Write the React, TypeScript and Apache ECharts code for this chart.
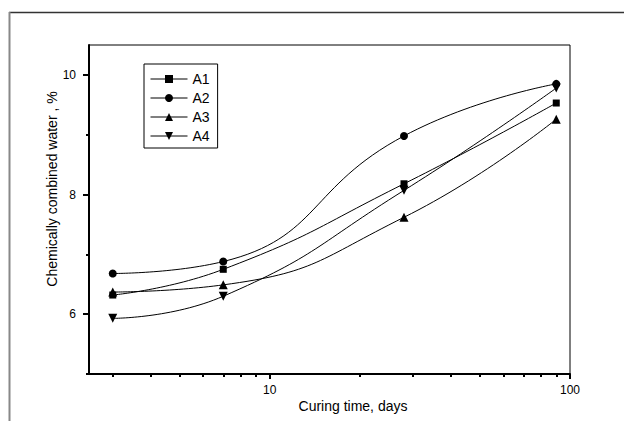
import React, { useEffect, useRef } from "react";
import * as echarts from "echarts";

// ---- data ----
const curingDays = [3, 7, 28, 90];
const seriesNames = ["A1", "A2", "A3", "A4"];
const a1Values = [6.32, 6.75, 8.18, 9.53];
const a2Values = [6.68, 6.88, 8.98, 9.85];
const a3Values = [6.37, 6.49, 7.62, 9.26];
const a4Values = [5.93, 6.3, 8.07, 9.78];
const xMajorTicks = [10, 100];
const xMinorTicks = [3, 4, 5, 6, 7, 8, 9, 20, 30, 40, 50, 60, 70, 80, 90];
const yMajorTicks = [6, 8, 10];
const yMinorTicks = [5, 7, 9];
const xTitle = "Curing time, days";
const yTitle = "Chemically combined water , %";

const FONT = "'Liberation Sans', Arial, sans-serif";

export default function App() {
  const ref = useRef<HTMLDivElement>(null);

  useEffect(() => {
    if (!ref.current) return;
    const chart = echarts.init(ref.current, null, { renderer: "svg" });
    const allValues = [a1Values, a2Values, a3Values, a4Values];
    const symbols = ["rect", "circle", "triangle", "triangle"];
    const rotates = [0, 0, 0, 180];
    const sizes = [7, 8, 9, 9];

    const series = seriesNames.map((name, i) => ({
      name,
      type: "line",
      xAxisIndex: 0,
      yAxisIndex: 0,
      smooth: 0.5,
      data: curingDays.map((d, j) => [d, allValues[i][j]]),
      symbol: symbols[i],
      symbolRotate: rotates[i],
      symbolSize: sizes[i],
      showAllSymbol: true,
      lineStyle: { color: "#000", width: 1 },
      itemStyle: { color: "#000", borderWidth: 0 },
      z: 3,
    }));

    const axisCommonY = {
      type: "value",
      min: 5,
      max: 10.5,
      interval: 1,
      gridIndex: 0,
      splitLine: { show: false },
    };
    const axisCommonX = {
      type: "log",
      logBase: 10,
      min: 2.5,
      max: 100,
      gridIndex: 0,
      splitLine: { show: false },
      minorTick: { show: false },
    };

    chart.setOption({
      animation: false,
      backgroundColor: "#fff",
      textStyle: { fontFamily: FONT },
      grid: {
        left: 89,
        top: 45,
        right: 54,
        bottom: 47,
        show: true,
        borderColor: "#000",
        borderWidth: 1,
      },
      legend: {
        orient: "vertical",
        left: 144,
        top: 64,
        padding: [8, 8, 5, 6],
        itemWidth: 37,
        itemHeight: 10,
        itemGap: 5,
        borderColor: "#000",
        borderWidth: 1,
        backgroundColor: "#fff",
        itemStyle: { borderWidth: 0, color: "#000" },
        lineStyle: { color: "#000", width: 1 },
        textStyle: {
          fontFamily: FONT,
          fontSize: 14,
          lineHeight: 14,
          color: "#000",
        },
        data: seriesNames,
      },
      xAxis: [
        {
          ...axisCommonX,
          position: "bottom",
          axisLine: { show: true, lineStyle: { color: "#000", width: 2 } },
          axisTick: {
            show: true,
            inside: false,
            length: 5,
            customValues: xMajorTicks,
            lineStyle: { color: "#000", width: 2 },
          },
          axisLabel: {
            show: true,
            customValues: xMajorTicks,
            margin: 10,
            fontSize: 12,
            fontFamily: FONT,
            color: "#000",
          },
        },
        {
          ...axisCommonX,
          position: "bottom",
          axisLine: { show: false },
          axisTick: {
            show: true,
            inside: false,
            length: 3,
            customValues: xMinorTicks,
            lineStyle: { color: "#000", width: 2 },
          },
          axisLabel: { show: false },
        },
      ],
      yAxis: [
        {
          ...axisCommonY,
          position: "left",
          axisLine: { show: true, lineStyle: { color: "#000", width: 2 } },
          axisTick: {
            show: true,
            inside: false,
            length: 6,
            customValues: yMajorTicks,
            lineStyle: { color: "#000", width: 2 },
          },
          axisLabel: {
            show: true,
            customValues: yMajorTicks,
            margin: 13,
            fontSize: 12,
            fontFamily: FONT,
            color: "#000",
          },
        },
        {
          ...axisCommonY,
          position: "left",
          axisLine: { show: false },
          axisTick: {
            show: true,
            inside: false,
            length: 3,
            customValues: yMinorTicks,
            lineStyle: { color: "#000", width: 2 },
          },
          axisLabel: { show: false },
        },
      ],
      graphic: [
        {
          type: "line",
          shape: { x1: 9, y1: 12.5, x2: 624, y2: 12.5 },
          style: { stroke: "#333", lineWidth: 1.5 },
          silent: true,
        },
        {
          type: "line",
          shape: { x1: 9.5, y1: 12, x2: 9.5, y2: 421 },
          style: { stroke: "#888", lineWidth: 2 },
          silent: true,
        },
        {
          type: "text",
          x: 353,
          y: 406,
          style: {
            text: xTitle,
            fontFamily: FONT,
            fontSize: 14,
            fill: "#000",
            align: "center",
            verticalAlign: "middle",
          },
        },
        {
          type: "text",
          x: 52,
          y: 189,
          rotation: Math.PI / 2,
          style: {
            text: yTitle,
            fontFamily: FONT,
            fontSize: 14,
            fill: "#000",
            align: "center",
            verticalAlign: "middle",
          },
        },
      ],
      series,
    });

    return () => chart.dispose();
  }, []);

  return (
    <div
      ref={ref}
      style={{ position: "fixed", left: 0, top: 0, width: 624, height: 421 }}
    />
  );
}
